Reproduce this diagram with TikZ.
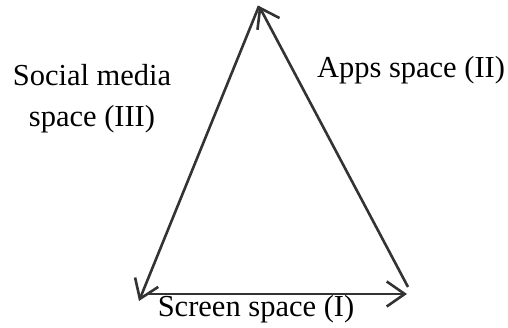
\documentclass[tikz,border=0pt]{standalone}
\usepackage{fontspec}
\setmainfont{Liberation Serif}
\usetikzlibrary{arrows.meta}
\begin{document}
\begin{tikzpicture}[x=1pt,y=-1pt,
  edge/.style={draw=black!80, line width=2.6pt, -{Straight Barb[length=18pt,width=25pt,line width=2.6pt]}},
  lbl/.style={font=\fontsize{30.5}{41}\selectfont, text=black, align=center, inner sep=0pt}]
  \useasboundingbox (0,0) rectangle (508,328);
  % corners of the triangle
  \coordinate (top) at (259,6);
  \coordinate (bl) at (139,301);
  \coordinate (br) at (408,287);
  \coordinate (bstart) at (146,294);
  \coordinate (bend) at (407,294);
  % sides
  \draw[edge] (top) -- (bl);
  \draw[edge] (br) -- (top);
  \draw[edge] (bstart) -- (bend);
  % labels
  \node[lbl] (social) at (92,99) {Social media\\space (III)};
  \node[lbl] (apps) at (411,70) {Apps space (II)};
  \node[lbl] (screen) at (256,309) {Screen space (I)};
\end{tikzpicture}
\end{document}
